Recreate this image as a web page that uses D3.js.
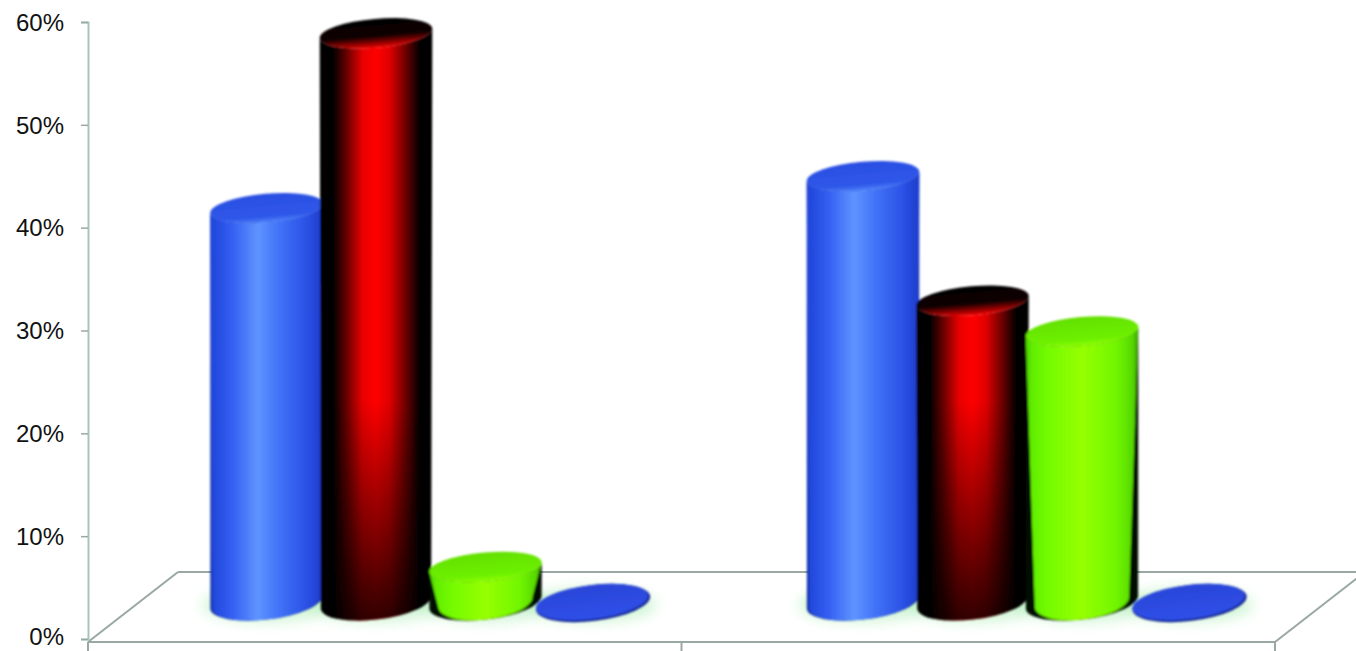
<!DOCTYPE html>
<html>
<head>
<meta charset="utf-8">
<script src="https://cdn.jsdelivr.net/npm/d3@7/dist/d3.min.js"></script>
<style>
  html, body { margin: 0; padding: 0; background: #fff; overflow: hidden; }
  svg { display: block; }
  .tick text { font-family: "Liberation Sans", Arial, sans-serif; font-size: 24px; fill: #111; }
</style>
</head>
<body>
<svg id="chart" width="1356" height="651"></svg>
<script>
// Chart data
const categories = ["Group 1", "Group 2"];
const seriesNames = ["Series A", "Series B", "Series C", "Series D"];
const seriesA = [38.3, 41.4];
const seriesB = [55.3, 29.3];
const seriesC = [3.4, 26.3];
const seriesD = [0, 0];
const yTicks = [0, 10, 20, 30, 40, 50, 60];

const allSeries = [seriesA, seriesB, seriesC, seriesD];
const W = 1356, H = 651;

// Oblique floor geometry
const axisX = 88, axisRight = 1275, floorFront = 642, floorBack = 572, floorShift = 90;
const depthRise = 37;

const svg = d3.select("#chart");
const y = d3.scaleLinear().domain([0, 60]).range([639, 22]);
const xEdge = d3.scalePoint().domain(d3.range(categories.length + 1)).range([axisX, axisRight]);
// Groups sit half way into the floor's depth
const x0 = d3.scaleBand().domain(categories).range([131, 1324]);
const x1 = d3.scaleBand().domain(seriesNames).range([-217, 217]);

const defs = svg.append("defs");

function hGrad(id, stops) {
  const g = defs.append("linearGradient").attr("id", id)
    .attr("x1", 0).attr("x2", 1).attr("y1", 0).attr("y2", 0);
  stops.forEach(([o, c]) => g.append("stop").attr("offset", o).attr("stop-color", c));
}
function vGrad(id, stops) {
  const g = defs.append("linearGradient").attr("id", id)
    .attr("x1", 0).attr("x2", 0).attr("y1", 0).attr("y2", 1);
  stops.forEach(([o, c]) => g.append("stop").attr("offset", o).attr("stop-color", c));
}

hGrad("bodyBlue", [[0, "#1f44d8"], [0.2, "#3560f2"], [0.42, "#5f94ff"], [0.6, "#4274f8"], [0.85, "#2c52e6"], [1, "#1d3ccc"]]);
hGrad("bodyRed", [[0, "#000"], [0.12, "#000"], [0.26, "#7a0000"], [0.38, "#e80000"], [0.5, "#ff0000"], [0.62, "#e00000"], [0.76, "#700000"], [0.89, "#000"], [1, "#000"]]);
hGrad("bodyGreen", [[0, "#4cd000"], [0.06, "#62ee00"], [0.2, "#74fb00"], [0.5, "#96ff00"], [0.8, "#72f600"], [0.95, "#55d800"], [1, "#3aa000"]]);
vGrad("capBlue", [[0, "#2a4fe2"], [0.78, "#2f57e8"], [1, "#4f83fb"]]);
vGrad("capRed", [[0, "#000"], [0.6, "#120000"], [0.85, "#9a0000"], [1, "#ee0000"]]);
vGrad("capGreen", [[0, "#63e000"], [0.78, "#6df000"], [1, "#8cff00"]]);
vGrad("capDisk", [[0, "#2a45d8"], [1, "#3050e8"]]);

// Red cylinders darken towards the floor
const fade = defs.append("linearGradient").attr("id", "fadeDown")
  .attr("gradientUnits", "userSpaceOnUse")
  .attr("x1", 0).attr("x2", 0).attr("y1", 400).attr("y2", 620);
[[0, 0], [0.5, 0.4], [1, 0.8]].forEach(([o, a]) =>
  fade.append("stop").attr("offset", o).attr("stop-color", "#000").attr("stop-opacity", a));

defs.append("filter").attr("id", "glow")
  .attr("x", "-40%").attr("y", "-80%").attr("width", "180%").attr("height", "260%")
  .append("feGaussianBlur").attr("stdDeviation", 7);
defs.append("filter").attr("id", "soft")
  .attr("x", "-5%").attr("y", "-5%").attr("width", "110%").attr("height", "110%")
  .append("feGaussianBlur").attr("stdDeviation", 0.8);

// Floor
const floorColor = "#9aa8a2";
const floor = svg.append("g").attr("fill", "none").attr("stroke", floorColor).attr("stroke-width", 2);
floor.append("line").attr("x1", axisX).attr("x2", axisRight).attr("y1", floorFront).attr("y2", floorFront);
floor.append("line").attr("x1", axisX + floorShift).attr("x2", W).attr("y1", floorBack).attr("y2", floorBack);
floor.append("line").attr("x1", axisX).attr("y1", floorFront).attr("x2", axisX + floorShift).attr("y2", floorBack);
floor.append("line").attr("x1", axisRight).attr("y1", floorFront).attr("x2", axisRight + floorShift).attr("y2", floorBack);
xEdge.domain().forEach(i => {
  floor.append("line").attr("x1", xEdge(i)).attr("x2", xEdge(i)).attr("y1", floorFront).attr("y2", H);
});

// Value axis
const yAxis = d3.axisLeft(y).tickValues(yTicks).tickFormat(d => d + "%").tickSize(7).tickPadding(17);
const axisG = svg.append("g").attr("transform", `translate(${axisX},0)`).call(yAxis);
axisG.selectAll(".domain").attr("stroke", "#a9c4ba").attr("stroke-width", 2);
axisG.selectAll(".tick line").attr("stroke", floorColor).attr("stroke-width", 1.5);
// The lowest label is lifted a little so it stays inside the page
axisG.selectAll(".tick text").attr("dy", d => d === 0 ? "0.22em" : "0.34em");

// Cylinders
const capShape = { rx: 56.5, ry: 14.5, tilt: -5 };
const baseShape = { ry: 17.5, tilt: -7 };
const styles = [
  { body: "bodyBlue", cap: "capBlue", taper: 2, nudge: 0, backing: "#0b2a9c" },
  { body: "bodyRed", cap: "capRed", taper: 1, nudge: 1, fade: true },
  { body: "bodyGreen", cap: "capGreen", taper: 9, nudge: 2, backing: "#050a00" }
];
const glowLayer = svg.append("g").attr("filter", "url(#glow)");
const barLayer = svg.append("g").attr("filter", "url(#soft)");

const ends = (cx, cy, rx, deg) => {
  const r = deg * Math.PI / 180;
  return { lx: cx - rx * Math.cos(r), ly: cy - rx * Math.sin(r),
           rx_: cx + rx * Math.cos(r), ry_: cy + rx * Math.sin(r) };
};

// Outline of a cylinder whose foot is narrower than its top by `taper`
function cylinderPath(cx, topY, baseY, taper) {
  const baseRx = capShape.rx - taper;
  const t = ends(cx, topY, capShape.rx, capShape.tilt);
  const b = ends(cx, baseY, baseRx, baseShape.tilt);
  return `M${t.lx},${t.ly} L${b.lx},${b.ly} ` +
    `A${baseRx},${baseShape.ry} ${baseShape.tilt} 0 0 ${b.rx_},${b.ry_} ` +
    `L${t.rx_},${t.ry_} ` +
    `A${capShape.rx},${capShape.ry} ${capShape.tilt} 0 1 ${t.lx},${t.ly} Z`;
}

categories.forEach(cat => {
  const groupX = x0(cat) + x0.bandwidth() / 2;
  seriesNames.forEach((name, si) => {
    const v = allSeries[si][categories.indexOf(cat)];
    const st = styles[si];
    const cx = groupX + x1(name) + x1.bandwidth() / 2 + (st ? st.nudge : 0);
    const baseY = y(0) - depthRise;
    const topY = y(v) - depthRise;

    glowLayer.append("ellipse")
      .attr("cx", cx).attr("cy", baseY + 3)
      .attr("rx", capShape.rx + 8).attr("ry", 17)
      .attr("fill", "#8fe89a").attr("opacity", 0.42);

    if (v === 0) {
      // A zero value is just a flat disc on the floor
      barLayer.append("ellipse")
        .attr("rx", capShape.rx + 1).attr("ry", 18)
        .attr("transform", `translate(${cx + 1},${baseY + 1}) rotate(${baseShape.tilt})`)
        .attr("fill", "#101f90");
      barLayer.append("ellipse")
        .attr("rx", capShape.rx).attr("ry", 17)
        .attr("transform", `translate(${cx},${baseY}) rotate(${baseShape.tilt})`)
        .attr("fill", "url(#capDisk)");
      return;
    }

    const bodyPath = cylinderPath(cx, topY, baseY, st.taper);
    if (st.backing) {
      barLayer.append("path").attr("d", cylinderPath(cx, topY, baseY, 0)).attr("fill", st.backing);
    }
    barLayer.append("path").attr("d", bodyPath).attr("fill", `url(#${st.body})`);
    if (st.fade) barLayer.append("path").attr("d", bodyPath).attr("fill", "url(#fadeDown)");
    barLayer.append("ellipse")
      .attr("rx", capShape.rx).attr("ry", capShape.ry)
      .attr("transform", `translate(${cx},${topY}) rotate(${capShape.tilt})`)
      .attr("fill", `url(#${st.cap})`);
  });
});
</script>
</body>
</html>
